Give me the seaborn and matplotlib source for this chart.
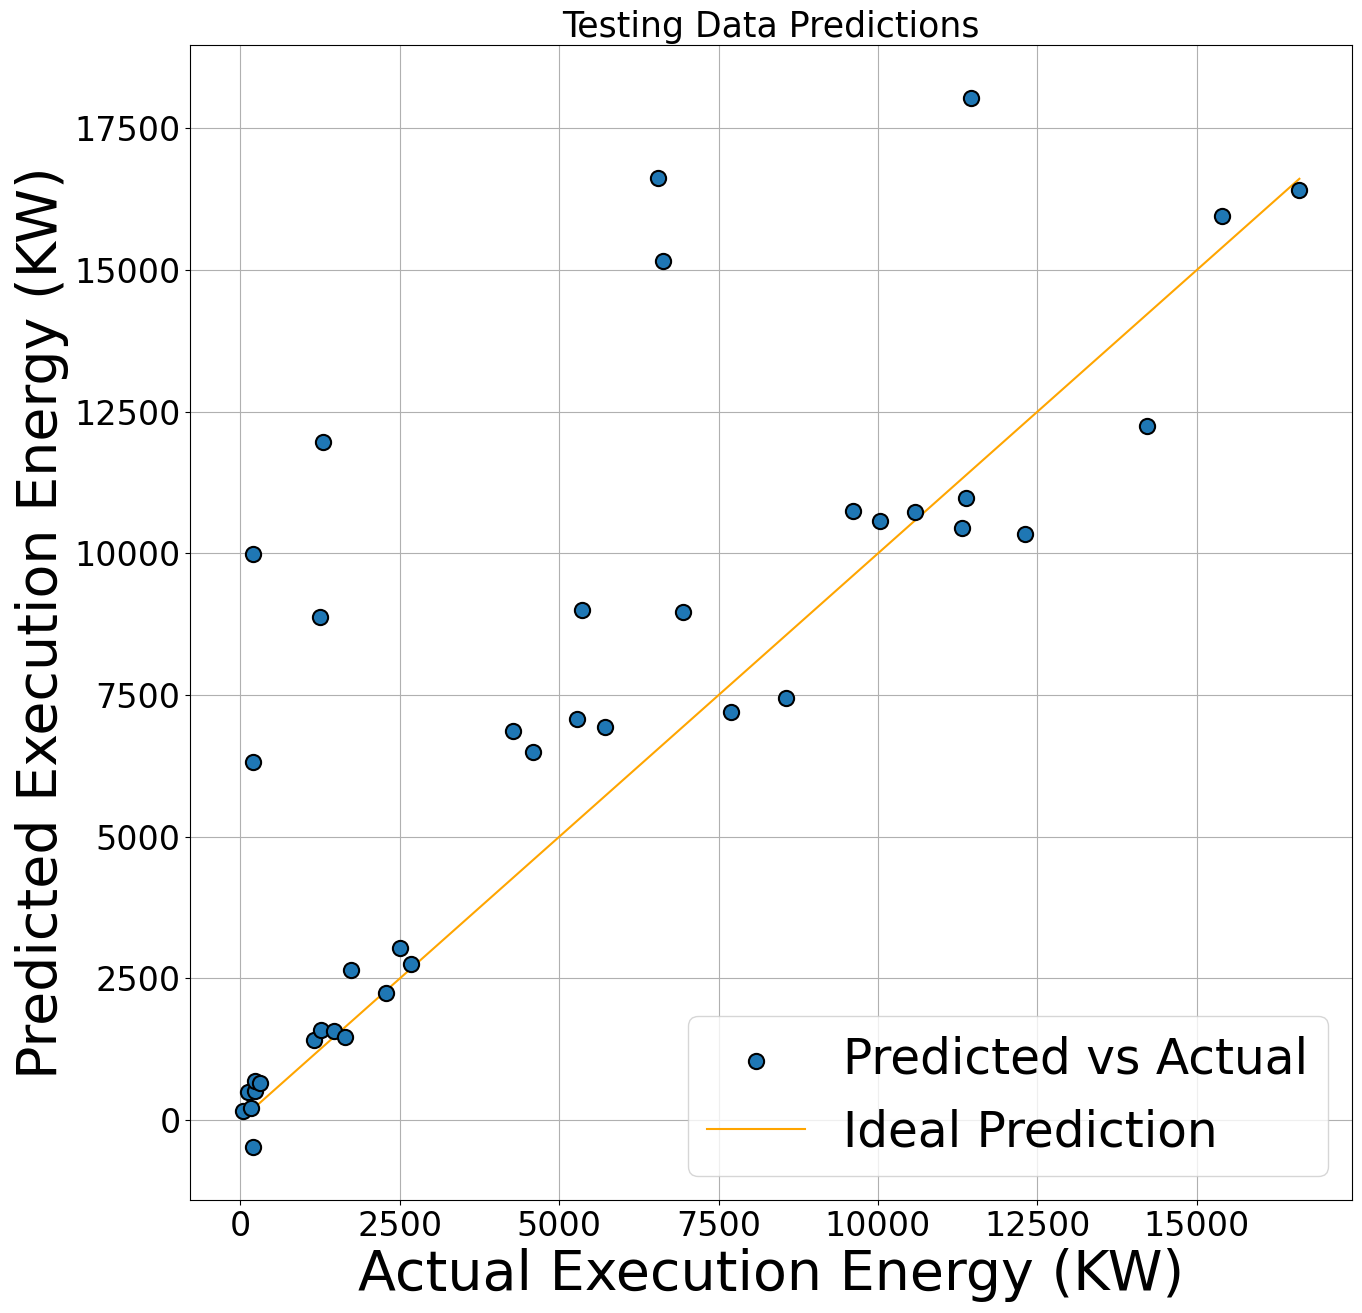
import numpy as np
import pandas as pd
import seaborn as sns
import matplotlib.pyplot as plt


actual = [42, 172, 120, 224, 224, 302, 199, 1148, 1257, 1461, 1644, 1738, 2286, 2510, 2677,
          204, 204, 1300, 1253, 4274, 4587, 5276, 5355, 5715, 6545, 6623, 6936, 7703, 8564,
          9613, 10036, 10584, 11320, 11383, 11461, 12306, 14216, 15400, 16612]
predicted = [159, 217, 489, 517, 688, 647, -482, 1411, 1588, 1570, 1459, 2646, 2246, 3029, 2752,
             9984, 6315, 11960, 8873, 6862, 6492, 7074, 8996, 6932, 16634, 15170, 8961, 7197, 7444,
             10743, 10566, 10725, 10443, 10972, 18046, 10337, 12242, 15964, 16423]

df = pd.DataFrame({"actual": actual, "predicted": predicted})
lo, hi = min(actual), max(actual)
ideal = pd.DataFrame({"x": [lo, hi], "y": [lo, hi]})

fig, ax = plt.subplots(figsize=(13.62, 13.13), dpi=100)
plt.subplots_adjust(left=0.1397, right=0.9928, top=0.9657, bottom=0.0861)

sns.scatterplot(data=df, x="actual", y="predicted", s=120, color="#1f77b4",
                edgecolor="black", linewidth=1.5, label="Predicted vs Actual", ax=ax, zorder=3)
sns.lineplot(data=ideal, x="x", y="y", color="orange", linewidth=1.5,
             label="Ideal Prediction", ax=ax)

ax.set_title("Testing Data Predictions", fontsize=25)
ax.set_xlabel("Actual Execution Energy (KW)", fontsize=40)
ax.set_ylabel("Predicted Execution Energy (KW)", fontsize=40)
ax.tick_params(labelsize=24)
ax.grid(True)
ax.legend(fontsize=35, loc="lower right")

plt.savefig("out.png")
